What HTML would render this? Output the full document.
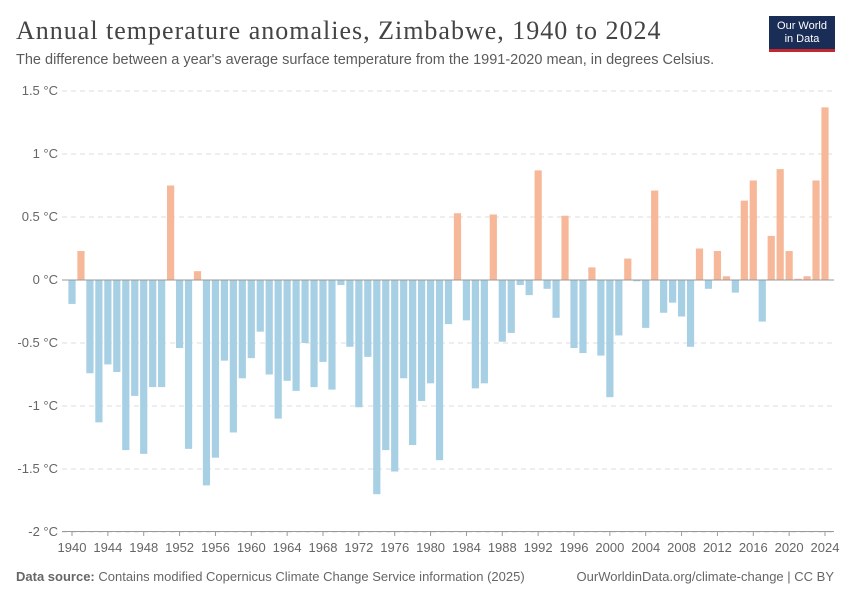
<!DOCTYPE html>
<html><head><meta charset="utf-8"><style>
body{margin:0;background:#fff;font-family:"Liberation Sans",sans-serif}
#wrap{position:relative;width:850px;height:600px}
.t{position:absolute;white-space:nowrap}
</style></head><body>
<div id="wrap">
<div class="t" style="left:16px;top:16px;font-family:'Liberation Serif',serif;font-size:26px;letter-spacing:1px;color:#444">Annual temperature anomalies, Zimbabwe, 1940 to 2024</div>
<div class="t" style="left:16px;top:52px;font-size:14.5px;color:#5b5b5b">The difference between a year's average surface temperature from the 1991-2020 mean, in degrees Celsius.</div>
<div style="position:absolute;left:769px;top:16px;width:66px;height:36px;background:#1a2d57;border-bottom:3px solid #c3272e;color:#fff;font-size:11px;line-height:13px;text-align:center;padding-top:4px;box-sizing:border-box">Our World<br>in Data</div>
<svg id="chart" width="850" height="600" style="position:absolute;left:0;top:0"></svg>
<div class="t" style="left:16px;top:569px;font-size:13px;color:#666"><b>Data source:</b> Contains modified Copernicus Climate Change Service information (2025)</div>
<div class="t" style="right:16px;top:569px;font-size:13px;color:#666">OurWorldinData.org/climate-change | CC BY</div>
</div>
<script>
const years=[];for(let y=1940;y<=2024;y++)years.push(y);
const values=[-0.19,0.23,-0.74,-1.13,-0.67,-0.73,-1.35,-0.92,-1.38,-0.85,-0.85,0.75,-0.54,-1.34,0.07,-1.63,-1.41,-0.64,-1.21,-0.78,-0.62,-0.41,-0.75,-1.10,-0.80,-0.88,-0.50,-0.85,-0.65,-0.87,-0.04,-0.53,-1.01,-0.61,-1.70,-1.35,-1.52,-0.78,-1.31,-0.96,-0.82,-1.43,-0.35,0.53,-0.32,-0.86,-0.82,0.52,-0.49,-0.42,-0.04,-0.12,0.87,-0.07,-0.30,0.51,-0.54,-0.58,0.10,-0.60,-0.93,-0.44,0.17,-0.01,-0.38,0.71,-0.26,-0.18,-0.29,-0.53,0.25,-0.07,0.23,0.03,-0.10,0.63,0.79,-0.33,0.35,0.88,0.23,0.01,0.03,0.79,1.37];
const yTicks=[1.5,1,0.5,0,-0.5,-1,-1.5,-2];
const yTickLabels=["1.5 °C","1 °C","0.5 °C","0 °C","-0.5 °C","-1 °C","-1.5 °C","-2 °C"];
const xTicks=[1940,1944,1948,1952,1956,1960,1964,1968,1972,1976,1980,1984,1988,1992,1996,2000,2004,2008,2012,2016,2020,2024];
const svg=document.getElementById('chart');const NS='http://www.w3.org/2000/svg';
const yS=v=>280-v*126;
const xS=y=>72+(y-1940)*(753/84);
function mk(t,a){const e=document.createElementNS(NS,t);for(const k in a)e.setAttribute(k,a[k]);svg.appendChild(e);return e;}
yTicks.forEach((v,i)=>{
 if(v!==0){const l=mk('line',{x1:62,x2:834,y1:yS(v),y2:yS(v),stroke:'#ddd','stroke-dasharray':'5,4'});
 
 }
 const t=mk('text',{x:58,y:yS(v)+4,'text-anchor':'end','font-size':13,fill:'#666','font-family':'Liberation Sans,sans-serif'});
 t.textContent=yTickLabels[i];
 
 
});
years.forEach((y,i)=>{
 const v=values[i];const top=Math.min(yS(v),yS(0));const h=Math.abs(yS(v)-yS(0));
 const r=mk('rect',{x:xS(y)-3.6,y:top,width:7.2,height:Math.max(h,0.5),fill:v>=0?'#f6b899':'#a7d0e4'});
 
 
});
const z=mk('line',{x1:62,x2:834,y1:yS(0),y2:yS(0),stroke:'#999','stroke-width':1});


const ax=mk('line',{x1:62,x2:834,y1:531.5,y2:531.5,stroke:'#999'});


xTicks.forEach(y=>{
 const tk=mk('line',{x1:xS(y),x2:xS(y),y1:531,y2:536,stroke:'#999'});
 
 
 const t=mk('text',{x:xS(y),y:552,'text-anchor':'middle','font-size':13,fill:'#666','font-family':'Liberation Sans,sans-serif'});
 t.textContent=y;
 
 
});
</script>
</body></html>
